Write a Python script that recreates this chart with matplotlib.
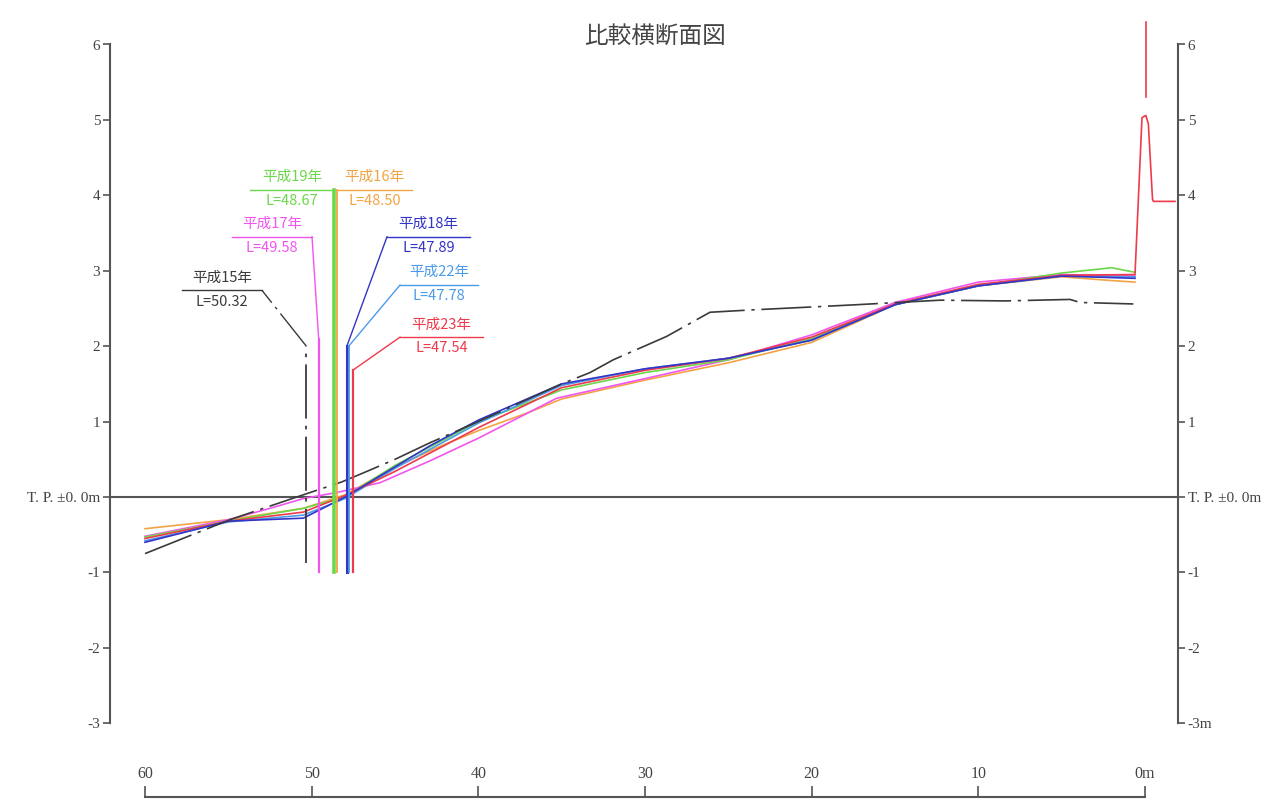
import matplotlib.pyplot as plt

# 比較横断面図 : distance from the 0m point (m) and elevation T.P. (m)
years = ['平成15年', '平成16年', '平成17年', '平成18年', '平成19年', '平成22年', '平成23年']
L_values = [50.32, 48.50, 49.58, 47.89, 48.67, 47.78, 47.54]
colors = ['#3a3a3a', '#f2a444', '#f055ee', '#3434c8', '#6ad84a', '#4a9be8', '#ee3a4a']

dist_h15 = [60, 54.9, 50.9, 48.2, 46.9, 45.0, 42.9, 40.0, 35.0, 33.3, 31.9, 28.7, 26.1, 23.7, 20.0, 17.3, 12.3, 8.4, 4.5, 3.9, 0.7]
elev_h15 = [-0.75, -0.30, 0.00, 0.20, 0.32, 0.50, 0.72, 1.00, 1.50, 1.65, 1.82, 2.13, 2.45, 2.48, 2.52, 2.55, 2.61, 2.60, 2.62, 2.58, 2.56]

dist_h16 = [60, 55, 50.5, 48, 45, 42, 40, 37, 35, 30, 25, 20, 15, 10, 5, 2, 0.6]
elev_h16 = [-0.42, -0.30, -0.15, 0.03, 0.40, 0.70, 0.88, 1.12, 1.30, 1.55, 1.78, 2.05, 2.55, 2.80, 2.92, 2.87, 2.85]

dist_h17 = [60, 55, 52.5, 50.5, 48.5, 47.3, 45.9, 42.9, 40, 35.3, 30, 25, 20, 15, 10, 5, 0.6]
elev_h17 = [-0.52, -0.30, -0.15, -0.02, 0.06, 0.12, 0.19, 0.48, 0.78, 1.31, 1.57, 1.82, 2.15, 2.58, 2.85, 2.95, 2.93]

dist_h18 = [60, 55, 50.5, 48, 45, 42.9, 40, 35, 30, 25, 20, 15, 10, 5, 0.6]
elev_h18 = [-0.60, -0.32, -0.28, 0.00, 0.40, 0.68, 1.02, 1.50, 1.70, 1.84, 2.08, 2.55, 2.80, 2.93, 2.90]

dist_h19 = [60, 55, 50.5, 48, 45, 40, 35, 30, 25, 20, 15, 10, 5, 2, 0.6]
elev_h19 = [-0.53, -0.32, -0.15, 0.00, 0.42, 1.00, 1.42, 1.65, 1.82, 2.10, 2.55, 2.80, 2.97, 3.04, 2.98]

dist_h22 = [60, 55, 50.5, 48, 45, 40, 35, 30, 25, 20, 15, 10, 5, 0.6]
elev_h22 = [-0.58, -0.33, -0.24, -0.02, 0.38, 0.98, 1.48, 1.70, 1.84, 2.08, 2.55, 2.80, 2.93, 2.92]

dist_h23 = [60, 55, 50.5, 48, 45, 40, 35, 30, 25, 20, 15, 10, 5, 0.6, 0.18, -0.05, -0.2, -0.45, -0.5, -1.8]
elev_h23 = [-0.55, -0.32, -0.20, 0.02, 0.34, 0.92, 1.45, 1.68, 1.84, 2.12, 2.56, 2.82, 2.94, 2.95, 5.03, 5.06, 4.95, 3.95, 3.92, 3.92]
# 平成23年 post at the right end
post_dist = [-0.06, -0.06]
post_elev = [6.3, 5.3]

x_ticks = [60, 50, 40, 30, 20, 10, 0]
x_labels = ['60', '50', '40', '30', '20', '10', '0m']
y_ticks = [-3, -2, -1, 0, 1, 2, 3, 4, 5, 6]
y_labels_left = ['-3', '-2', '-1', 'T. P. ±0. 0m', '1', '2', '3', '4', '5', '6']
y_labels_right = ['-3m', '-2', '-1', 'T. P. ±0. 0m', '1', '2', '3', '4', '5', '6']

# leader layout for each year label: (bottom of vertical, knee y, corner x, underline y, underline end x)
leaders = [(-0.87, 2.00, 52.98, 2.74, 57.78),
           (-1.0, 4.07, None, 4.07, 43.98),
           (-1.0, 2.10, 49.98, 3.45, 54.78),
           (-1.0, 2.00, 45.48, 3.45, 40.50),
           (-1.0, 4.07, None, 4.07, 53.70),
           (-1.0, 2.00, 44.70, 2.81, 40.00),
           (-1.0, 1.68, 44.70, 2.12, 39.70)]
vert_lw = [1.3, 1.3, 1.6, 2.2, 2.6, 1.3, 1.6]

axis_col = '#555555'
cjk = ['Noto Sans CJK JP', 'DejaVu Sans']
dashdot = (0, (30, 4, 2, 4))

fig = plt.figure(figsize=(12.74, 8.01), dpi=100)
ax = fig.add_axes([0, 0, 1, 1])
ax.set_xlim(68.70, -7.74)
ax.set_ylim(-4.03, 6.59)

# profiles
profiles = [(dist_h16, elev_h16, 1), (dist_h17, elev_h17, 2), (dist_h19, elev_h19, 4),
            (dist_h22, elev_h22, 5), (dist_h23, elev_h23, 6), (dist_h18, elev_h18, 3)]
for d, e, k in profiles:
    ax.plot(d, e, color=colors[k], lw=1.2, zorder=3)
ax.plot(dist_h15, elev_h15, color=colors[0], lw=1.2, linestyle=dashdot, zorder=4)
ax.plot(post_dist, post_elev, color=colors[6], lw=1.2, zorder=3)

# zero line
ax.plot([62.1, -1.98], [0, 0], color=axis_col, lw=1.5, zorder=2)

# L markers with leader lines and labels
for i in range(len(years)):
    L = L_values[i]
    y0, knee, cx, uy, ex = leaders[i]
    ls = dashdot if i == 0 else '-'
    ax.plot([L, L], [y0, knee], color=colors[i], lw=vert_lw[i], linestyle=ls, zorder=5)
    if cx is None:
        cx = L
    else:
        ax.plot([L, cx], [knee, uy], color=colors[i], lw=1.0, linestyle=ls, zorder=5)
    ax.plot([cx, ex], [uy, uy], color=colors[i], lw=1.0, zorder=5)
    mid = (cx + ex) / 2
    ax.text(mid, uy + 0.17, years[i], color=colors[i], fontsize=10.5, family=cjk,
            ha='center', va='center')
    ax.text(mid, uy - 0.15, 'L=%.2f' % L, color=colors[i], fontsize=10.5, family=cjk,
            ha='center', va='center')

# axes : left/right elevation scales, distance scale at the bottom
for s in ['right', 'bottom']:
    ax.spines[s].set_visible(False)
ax.spines['left'].set_position(('data', 62.1))
ax.spines['left'].set_bounds(-3, 6)
ax.spines['top'].set_position(('data', -3.98))
ax.spines['top'].set_bounds(0, 60)
for s in ['left', 'top']:
    ax.spines[s].set_color(axis_col)
    ax.spines[s].set_linewidth(1.5)

ax.set_yticks(y_ticks)
ax.set_yticklabels(y_labels_left)
ax.xaxis.set_ticks_position('top')
ax.set_xticks(x_ticks)
ax.set_xticklabels(x_labels)
ax.tick_params(axis='y', direction='out', length=5, width=1.2, color=axis_col,
               labelsize=11, labelcolor='#444444', pad=2)
ax.tick_params(axis='x', direction='out', length=8, width=1.2, color=axis_col,
               labelsize=11.5, labelcolor='#444444', pad=3)
for lab in ax.get_xticklabels() + ax.get_yticklabels():
    lab.set_family('Liberation Serif')

ax2 = ax.twinx()
ax2.set_ylim(-4.03, 6.59)
for s in ['left', 'top', 'bottom']:
    ax2.spines[s].set_visible(False)
ax2.spines['right'].set_position(('data', -1.98))
ax2.spines['right'].set_bounds(-3, 6)
ax2.spines['right'].set_color(axis_col)
ax2.spines['right'].set_linewidth(1.5)
ax2.set_yticks(y_ticks)
ax2.set_yticklabels(y_labels_right)
ax2.tick_params(axis='y', direction='out', length=5, width=1.2, color=axis_col,
                labelsize=11, labelcolor='#444444', pad=2)
for lab in ax2.get_yticklabels():
    lab.set_family('Liberation Serif')

fig.text(0.514, 0.955, '比較横断面図', fontsize=17, color='#444444', family=cjk,
         ha='center', va='center')

fig.savefig('out.png', dpi=100, facecolor='white')
